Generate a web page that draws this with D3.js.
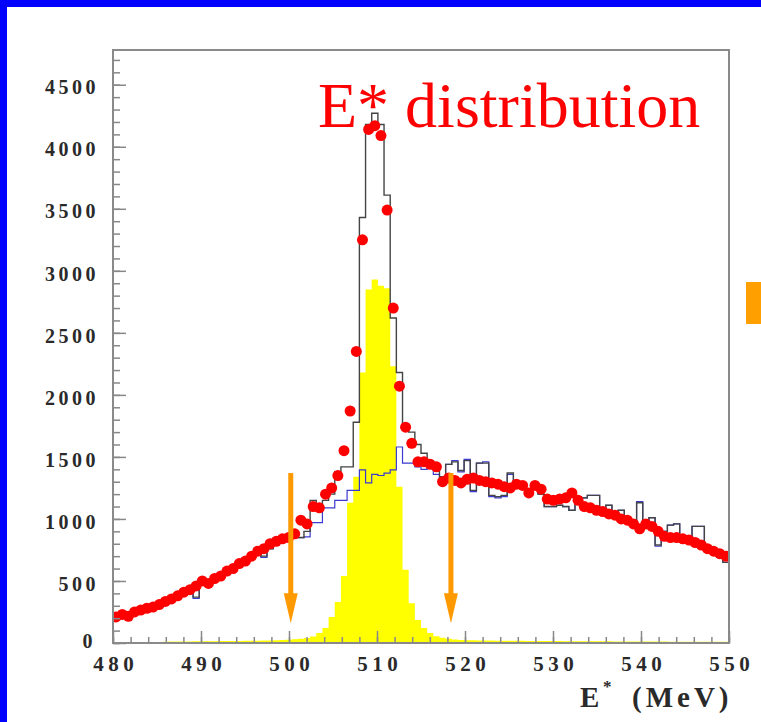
<!DOCTYPE html>
<html>
<head>
<meta charset="utf-8">
<script src="https://cdn.jsdelivr.net/npm/d3@7"></script>
<style>
  html, body { margin: 0; padding: 0; background: #fff; }
  svg { display: block; }
</style>
</head>
<body>
<svg id="chart" width="761" height="722"></svg>
<script>
// Histogram range: 100 bins of 0.7 MeV between 480 and 550 MeV
const binLow = 480;
const binHigh = 550;
const binCount = 100;

// Measured E* spectrum (red points)
const dataCounts = [
  210,230,215,250,265,280,290,310,335,355,
  380,410,430,460,500,480,520,540,580,600,
  640,660,700,740,760,800,820,840,850,880,
  990,960,1100,1090,1200,1250,1350,1550,1870,2350,
  3250,4140,4170,4090,3490,2700,2070,1740,1610,1460,
  1460,1440,1420,1300,1330,1310,1290,1320,1330,1310,
  1300,1290,1280,1260,1250,1280,1270,1210,1270,1240,
  1160,1150,1160,1170,1210,1150,1100,1090,1070,1060,
  1040,1030,1000,990,960,920,960,940,900,860,
  850,850,840,830,810,790,760,740,720,700
];

// Total simulation (black histogram)
const totalMC = [
  200,215,225,240,270,275,300,290,330,350,
  370,395,400,370,470,490,500,540,560,610,
  640,650,700,720,700,760,800,840,820,870,
  850,900,1150,1100,1150,1200,1380,1420,1420,1780,
  3430,4180,4270,4180,3610,2620,2180,1720,1700,1600,
  1530,1470,1400,1340,1440,1460,1390,1470,1230,1450,
  1450,1190,1180,1190,1370,1250,1280,1200,1250,1200,
  1100,1100,1110,1100,1070,1180,1170,1190,1190,1090,
  1110,1050,1070,1000,980,1130,960,1010,790,900,
  950,960,830,820,940,940,780,760,720,650
];

// Background simulation (blue histogram)
const background = [
  200,215,225,240,270,275,300,290,330,350,
  370,395,400,360,470,490,500,540,560,610,
  640,650,700,720,690,760,800,840,820,860,
  850,855,970,970,1090,1090,1150,1150,1230,1230,
  1395,1290,1360,1350,1370,1395,1580,1450,1450,1420,
  1400,1420,1360,1300,1440,1470,1380,1480,1220,1450,
  1460,1180,1170,1180,1360,1250,1280,1200,1250,1200,
  1100,1100,1110,1100,1070,1180,1170,1190,1190,1090,
  1110,1050,1070,1000,980,1140,960,1010,780,900,
  950,960,830,820,940,940,780,760,720,650
];

// Signal simulation (yellow filled histogram)
const signal = [
  0,0,0,0,0,0,0,8,10,12,
  12,13,13,14,14,15,15,16,16,17,
  17,18,18,19,20,21,22,24,27,30,
  34,40,52,80,120,210,330,540,1130,1340,
  2180,2850,2930,2880,2860,2230,1260,590,320,185,
  120,80,55,42,34,28,25,23,22,21,
  20,20,19,19,18,18,18,17,17,17,
  16,16,16,15,15,15,15,14,14,14,
  14,13,13,13,13,12,12,12,12,12,
  11,11,11,11,11,10,10,10,10,10
];

const yTickValues = [0, 500, 1000, 1500, 2000, 2500, 3000, 3500, 4000, 4500];
const xTickValues = [480, 490, 500, 510, 520, 530, 540, 550];
const yMax = 4780;

// Selection window marked by arrows
const cutValues = [500.2, 518.4];
const arrowTop = 1370;
const arrowTip = 160;

const titleText = "E* distribution";

const svg = d3.select("#chart");
const plot = { left: 113, right: 729, top: 50, bottom: 643 };

const x = d3.scaleLinear().domain([binLow, binHigh]).range([plot.left, plot.right]);
const y = d3.scaleLinear().domain([0, yMax]).range([plot.bottom, plot.top]);

const binWidth = (binHigh - binLow) / binCount;
const edges = d3.range(binCount + 1).map(i => binLow + i * binWidth);
const centers = d3.range(binCount).map(i => binLow + (i + 0.5) * binWidth);

// Slide background with blue border strips
svg.append("rect").attr("x", 0).attr("y", 0).attr("width", 761).attr("height", 722).attr("fill", "#fff");
svg.append("rect").attr("x", 0).attr("y", 0).attr("width", 761).attr("height", 7).attr("fill", "#0000ff");
svg.append("rect").attr("x", 0).attr("y", 0).attr("width", 7).attr("height", 722).attr("fill", "#0000ff");
svg.append("rect").attr("x", 746).attr("y", 282).attr("width", 15).attr("height", 42).attr("fill", "#ffa000");

svg.append("defs").append("clipPath").attr("id", "plotClip")
  .append("rect")
  .attr("x", plot.left).attr("y", plot.top)
  .attr("width", plot.right - plot.left).attr("height", plot.bottom - plot.top);

const stepPoints = vals => vals.map((v, i) => [edges[i], v]).concat([[edges[binCount], vals[binCount - 1]]]);

const g = svg.append("g").attr("clip-path", "url(#plotClip)");

// Signal: filled histogram
const area = d3.area()
  .curve(d3.curveStepAfter)
  .x(d => x(d[0]))
  .y0(y(0))
  .y1(d => y(d[1]));
g.append("path")
  .datum(stepPoints(signal))
  .attr("d", area)
  .attr("fill", "#ffff00")
  .attr("stroke", "none");

const line = d3.line()
  .curve(d3.curveStepAfter)
  .x(d => x(d[0]))
  .y(d => y(d[1]));

g.append("path")
  .datum(stepPoints(background))
  .attr("d", line)
  .attr("fill", "none")
  .attr("stroke", "#3a3ad0")
  .attr("stroke-width", 1.2);

g.append("path")
  .datum(stepPoints(totalMC))
  .attr("d", line)
  .attr("fill", "none")
  .attr("stroke", "#444")
  .attr("stroke-width", 1.4);

// Data points
g.append("g").selectAll("circle")
  .data(dataCounts)
  .join("circle")
  .attr("cx", (d, i) => x(centers[i]))
  .attr("cy", d => y(d))
  .attr("r", 5.5)
  .attr("fill", "#ff0000");

// Frame
svg.append("rect")
  .attr("x", plot.left).attr("y", plot.top)
  .attr("width", plot.right - plot.left).attr("height", plot.bottom - plot.top)
  .attr("fill", "none")
  .attr("stroke", "#8a8a8a")
  .attr("stroke-width", 2);

const labelFont = "'Liberation Serif', 'Times New Roman', serif";
const lsp = 4.5;

// Y axis: major ticks with labels, minor ticks every 100
const yMajor = svg.append("g")
  .attr("transform", `translate(${plot.left},0)`)
  .call(d3.axisLeft(y).tickValues(yTickValues).tickSizeInner(-13).tickSizeOuter(0).tickPadding(14).tickFormat(d3.format("d")));
yMajor.select(".domain").remove();
yMajor.selectAll("line").attr("stroke", "#888").attr("stroke-width", 1.5);
yMajor.selectAll("text")
  .attr("dy", d => d === 0 ? "0.24em" : "0.46em")
  .attr("dx", d => d === 0 ? "-3px" : "0px")
  .attr("fill", "#2a2a2a")
  .style("font-family", labelFont)
  .style("font-weight", "bold")
  .style("font-size", "20px")
  .style("letter-spacing", "3.5px");

const yMinor = svg.append("g")
  .attr("transform", `translate(${plot.left},0)`)
  .call(d3.axisLeft(y).tickValues(d3.range(0, 4701, 100)).tickSizeInner(-7).tickSizeOuter(0).tickFormat(""));
yMinor.select(".domain").remove();
yMinor.selectAll("line").attr("stroke", "#888").attr("stroke-width", 1.5);

// X axis: major ticks every 10 MeV, minor every 2 MeV
const xMajor = svg.append("g")
  .attr("transform", `translate(0,${plot.bottom})`)
  .call(d3.axisBottom(x).tickValues(xTickValues).tickSizeInner(-12).tickSizeOuter(0).tickPadding(13).tickFormat(d3.format("d")));
xMajor.select(".domain").remove();
xMajor.selectAll("line").attr("stroke", "#888").attr("stroke-width", 1.5);
xMajor.selectAll("text")
  .attr("dx", (lsp / 2) + "px")
  .attr("fill", "#2a2a2a")
  .style("font-family", labelFont)
  .style("font-weight", "bold")
  .style("font-size", "21px")
  .style("letter-spacing", lsp + "px");

const xMinor = svg.append("g")
  .attr("transform", `translate(0,${plot.bottom})`)
  .call(d3.axisBottom(x).tickValues(d3.range(480, 551, 2)).tickSizeInner(-6).tickSizeOuter(0).tickFormat(""));
xMinor.select(".domain").remove();
xMinor.selectAll("line").attr("stroke", "#888").attr("stroke-width", 1.5);

// X axis title: E* (MeV)
const titleStyle = sel => sel
  .attr("fill", "#2a2a2a")
  .style("font-family", labelFont)
  .style("font-weight", "bold");
svg.append("text").attr("x", 580).attr("y", 707).text("E")
  .call(titleStyle).style("font-size", "29px");
svg.append("text").attr("x", 603).attr("y", 692).text("*")
  .call(titleStyle).style("font-size", "17px");
svg.append("text").attr("x", 632).attr("y", 707).text("(MeV)")
  .call(titleStyle).style("font-size", "29px").style("letter-spacing", "4px");

// Arrows marking the selection window
const arrows = svg.append("g").selectAll("g").data(cutValues).join("g");
const headLen = 30, headHalf = 7;
arrows.append("line")
  .attr("x1", d => x(d)).attr("x2", d => x(d))
  .attr("y1", y(arrowTop)).attr("y2", y(arrowTip) - headLen + 2)
  .attr("stroke", "#ff9900")
  .attr("stroke-width", 5);
arrows.append("path")
  .attr("d", d => {
    const cx = x(d), ty = y(arrowTip);
    return `M${cx - headHalf},${ty - headLen}L${cx + headHalf},${ty - headLen}L${cx},${ty}Z`;
  })
  .attr("fill", "#ff9900");

// Plot title
svg.append("text")
  .attr("x", 318).attr("y", 127)
  .attr("fill", "#ff0000")
  .style("font-family", "'Liberation Serif', 'Times New Roman', serif")
  .style("font-size", "64px")
  .text(titleText);
</script>
</body>
</html>
